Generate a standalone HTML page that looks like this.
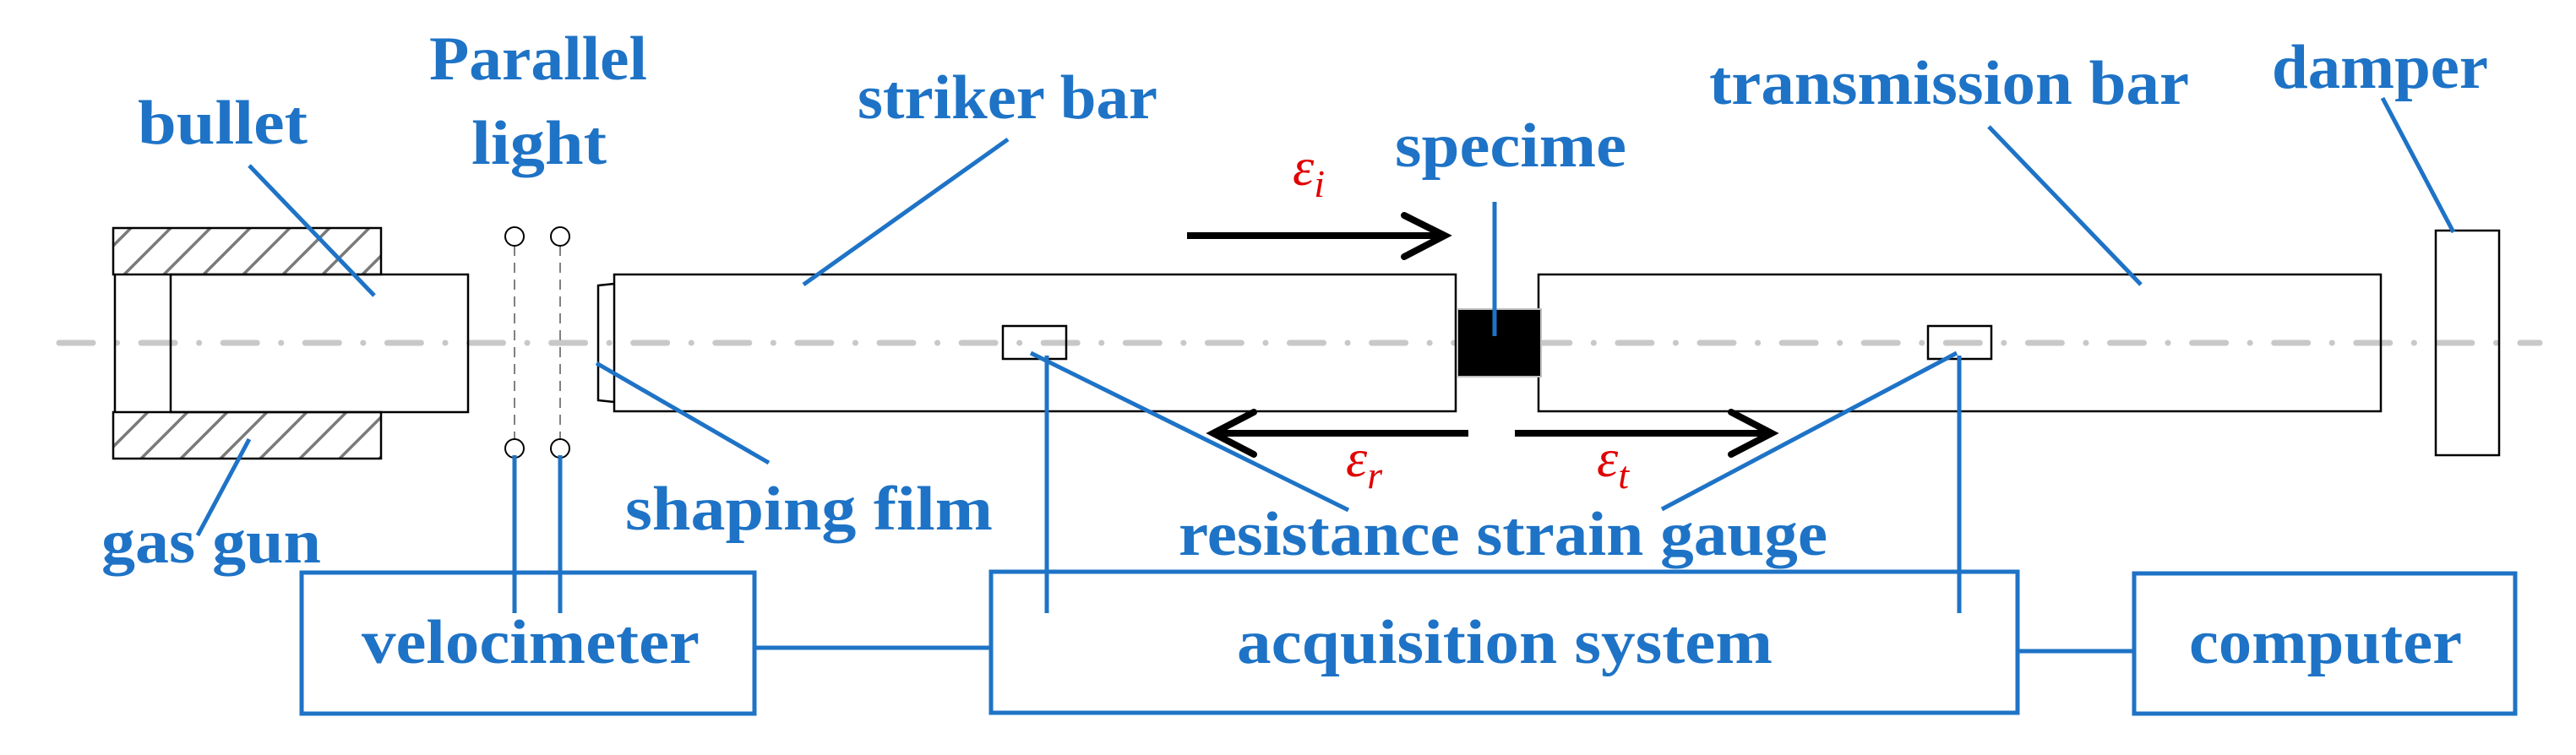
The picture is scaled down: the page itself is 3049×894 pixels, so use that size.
<!DOCTYPE html>
<html><head><meta charset="utf-8"><style>
html,body{margin:0;padding:0;background:#fff;}
svg{display:block;}
.lb{font-family:"Liberation Serif",serif;font-weight:bold;fill:#1e73c6;font-size:74px;}
.ep{font-family:"Liberation Serif",serif;font-style:italic;fill:#e00000;font-size:64px;}
</style></head><body>
<svg width="3049" height="894" viewBox="0 0 3049 894" xmlns="http://www.w3.org/2000/svg">
<defs>
<clipPath id="c1"><rect x="134" y="270" width="317" height="55"/></clipPath>
<clipPath id="c2"><rect x="134" y="488" width="317" height="55"/></clipPath>
</defs>
<line x1="70" y1="406" x2="3006" y2="406" stroke="#c8c8c8" stroke-width="7" stroke-linecap="round" stroke-dasharray="40 28.5 0.1 28.5"/>
<g stroke="#7a7a7a" stroke-width="3.5" clip-path="url(#c1)">
<line x1="100" y1="325" x2="155" y2="270"/><line x1="147" y1="325" x2="202" y2="270"/>
<line x1="194" y1="325" x2="249" y2="270"/><line x1="241" y1="325" x2="296" y2="270"/>
<line x1="288" y1="325" x2="343" y2="270"/><line x1="335" y1="325" x2="390" y2="270"/>
<line x1="382" y1="325" x2="437" y2="270"/><line x1="429" y1="325" x2="484" y2="270"/>
</g>
<g stroke="#7a7a7a" stroke-width="3.5" clip-path="url(#c2)">
<line x1="120" y1="543" x2="175" y2="488"/><line x1="167" y1="543" x2="222" y2="488"/>
<line x1="214" y1="543" x2="269" y2="488"/><line x1="261" y1="543" x2="316" y2="488"/>
<line x1="308" y1="543" x2="363" y2="488"/><line x1="355" y1="543" x2="410" y2="488"/>
<line x1="402" y1="543" x2="457" y2="488"/><line x1="449" y1="543" x2="504" y2="488"/>
</g>
<rect x="134" y="270" width="317" height="55" fill="none" stroke="#000" stroke-width="2.5"/>
<rect x="134" y="488" width="317" height="55" fill="none" stroke="#000" stroke-width="2.5"/>
<line x1="136" y1="325" x2="136" y2="488" stroke="#000" stroke-width="2.5"/>
<rect x="202" y="325" width="352" height="163" fill="none" stroke="#000" stroke-width="2.5"/>
<g stroke="#000" stroke-width="2" fill="#fff">
<line x1="609" y1="291" x2="609" y2="520" stroke="#808080" stroke-dasharray="12 8"/>
<line x1="663" y1="291" x2="663" y2="520" stroke="#808080" stroke-dasharray="12 8"/>
<circle cx="609" cy="280" r="11"/><circle cx="663" cy="280" r="11"/>
<circle cx="609" cy="531" r="11"/><circle cx="663" cy="531" r="11"/>
</g>
<path d="M727 336 L708 338 L708 474 L727 476" fill="none" stroke="#000" stroke-width="2.5"/>
<rect x="727" y="325" width="996" height="162" fill="none" stroke="#000" stroke-width="2.5"/>
<rect x="1821" y="325" width="997" height="162" fill="none" stroke="#000" stroke-width="2.5"/>
<rect x="1725" y="366" width="99" height="80" fill="#000" stroke="#c0c0c0" stroke-width="2"/>
<rect x="1187" y="386" width="75" height="39" fill="none" stroke="#000" stroke-width="2.5"/>
<rect x="2282" y="386" width="75" height="39" fill="none" stroke="#000" stroke-width="2.5"/>
<rect x="2883" y="273" width="75" height="266" fill="none" stroke="#000" stroke-width="2.5"/>
<g stroke="#000" stroke-width="8" fill="none" stroke-linecap="round" stroke-linejoin="miter">
<line x1="1405" y1="279" x2="1708" y2="279" stroke-linecap="butt"/>
<polyline points="1662,255 1710,279 1662,304"/>
<line x1="1738" y1="513" x2="1436" y2="513" stroke-linecap="butt"/>
<polyline points="1484,488 1436,513 1484,538"/>
<line x1="1793" y1="513" x2="2096" y2="513" stroke-linecap="butt"/>
<polyline points="2049,488 2097,513 2049,538"/>
</g>
<text class="ep" x="1530" y="219">ε<tspan font-size="46" dy="14">i</tspan></text>
<text class="ep" x="1593" y="564">ε<tspan font-size="46" dy="14">r</tspan></text>
<text class="ep" x="1890" y="564">ε<tspan font-size="46" dy="14">t</tspan></text>
<g stroke="#1e73c6" stroke-width="5" fill="none">
<line x1="295" y1="196" x2="443" y2="350"/>
<line x1="295" y1="520" x2="234" y2="634"/>
<line x1="609" y1="539" x2="609" y2="726"/>
<line x1="663" y1="539" x2="663" y2="726"/>
<line x1="706" y1="430" x2="910" y2="548"/>
<line x1="951" y1="337" x2="1193" y2="165"/>
<line x1="1769" y1="239" x2="1769" y2="398"/>
<line x1="1220" y1="418" x2="1596" y2="604"/>
<line x1="1239" y1="421" x2="1239" y2="726"/>
<line x1="1967" y1="603" x2="2316" y2="418"/>
<line x1="2319" y1="421" x2="2319" y2="726"/>
<line x1="2354" y1="150" x2="2534" y2="337"/>
<line x1="2820" y1="116" x2="2904" y2="275"/>
<rect x="357" y="678" width="536" height="167"/>
<rect x="1173" y="677" width="1215" height="167"/>
<rect x="2526" y="679" width="451" height="166"/>
<line x1="893" y1="767" x2="1173" y2="767"/>
<line x1="2388" y1="771" x2="2526" y2="771"/>
</g>
<text class="lb" x="163" y="170" textLength="201" lengthAdjust="spacingAndGlyphs">bullet</text>
<text class="lb" x="508" y="94" textLength="258" lengthAdjust="spacingAndGlyphs">Parallel</text>
<text class="lb" x="558" y="194" textLength="160" lengthAdjust="spacingAndGlyphs">light</text>
<text class="lb" x="120" y="666" textLength="260" lengthAdjust="spacingAndGlyphs">gas gun</text>
<text class="lb" x="740" y="627" textLength="435" lengthAdjust="spacingAndGlyphs">shaping film</text>
<text class="lb" x="1015" y="140" textLength="355" lengthAdjust="spacingAndGlyphs">striker bar</text>
<text class="lb" x="1651" y="197" textLength="274" lengthAdjust="spacingAndGlyphs">specime</text>
<text class="lb" x="2023" y="123" textLength="568" lengthAdjust="spacingAndGlyphs">transmission bar</text>
<text class="lb" x="2689" y="104" textLength="256" lengthAdjust="spacingAndGlyphs">damper</text>
<text class="lb" x="1395" y="657" textLength="768" lengthAdjust="spacingAndGlyphs">resistance strain gauge</text>
<text class="lb" x="428" y="785" textLength="400" lengthAdjust="spacingAndGlyphs">velocimeter</text>
<text class="lb" x="1464" y="785" textLength="634" lengthAdjust="spacingAndGlyphs">acquisition system</text>
<text class="lb" x="2591" y="785" textLength="323" lengthAdjust="spacingAndGlyphs">computer</text>
</svg>
</body></html>
